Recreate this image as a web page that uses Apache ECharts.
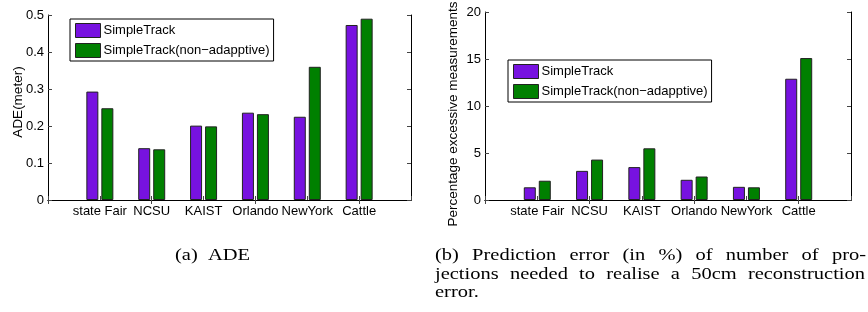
<!DOCTYPE html>
<html>
<head>
<meta charset="utf-8">
<script src="https://cdn.jsdelivr.net/npm/echarts@6/dist/echarts.min.js"></script>
<style>
  html, body { margin: 0; padding: 0; background: #fff; }
  #chart { width: 868px; height: 312px; }
</style>
</head>
<body>
<div id="chart"></div>
<script>
const categories = ['state Fair', 'NCSU', 'KAIST', 'Orlando', 'NewYork', 'Cattle']
const seriesNames = ['SimpleTrack', 'SimpleTrack(non\u2212adapptive)']
// (a) ADE in meters
const adeSimple = [0.293, 0.140, 0.201, 0.236, 0.225, 0.473]
const adeNonAdaptive = [0.248, 0.137, 0.199, 0.232, 0.360, 0.490]
// (b) percentage excessive measurements
const pctSimple = [1.35, 3.1, 3.5, 2.15, 1.4, 12.9]
const pctNonAdaptive = [2.05, 4.3, 5.5, 2.5, 1.35, 15.1]
const adeTicks = { min: 0, max: 0.5, interval: 0.1 }
const pctTicks = { min: 0, max: 20, interval: 5 }
const captionA = '(a) ADE'
const captionB = ['(b) Prediction error (in %) of number of pro-', 'jections needed to realise a 50cm reconstruction', 'error.']

const colors = ['#7712e0', '#008000']
const sans = '"Liberation Sans", Arial, Helvetica, sans-serif'
const serif = '"Liberation Serif", "Times New Roman", serif'

// MATLAB style xlim [0 7]: pad one empty slot on each side
const paddedCats = [''].concat(categories, [''])
const pad = arr => [null].concat(arr, [null])

function xAxes(gridIndex) {
  const base = {
    type: 'category',
    gridIndex: gridIndex,
    data: paddedCats,
    boundaryGap: false,
    axisLine: { show: true, lineStyle: { color: '#000', width: 1 } },
    axisTick: { show: true, inside: true, length: 4, lineStyle: { color: '#444' } },
    splitLine: { show: false }
  }
  return [
    Object.assign({}, base, {
      position: 'bottom',
      axisLabel: { interval: 0, color: '#000', fontSize: 13, fontFamily: sans, margin: 5 }
    }),
    Object.assign({}, base, { position: 'top', axisLabel: { show: false } })
  ]
}

function yAxes(gridIndex, ticks) {
  const base = {
    type: 'value',
    gridIndex: gridIndex,
    min: ticks.min,
    max: ticks.max,
    interval: ticks.interval,
    axisLine: { show: true, lineStyle: { color: '#000', width: 1 } },
    axisTick: { show: true, inside: true, length: 4, lineStyle: { color: '#444' } },
    splitLine: { show: false }
  }
  return [
    Object.assign({}, base, {
      position: 'left',
      axisLabel: { color: '#000', fontSize: 13, fontFamily: sans, margin: 4 }
    }),
    Object.assign({}, base, { position: 'right', axisLabel: { show: false } })
  ]
}

function barSeries(name, data, color, gridIndex) {
  return {
    type: 'bar',
    name: name,
    xAxisIndex: gridIndex * 2,
    yAxisIndex: gridIndex * 2,
    data: pad(data),
    barWidth: 12,
    barGap: '25%',
    itemStyle: { color: color, borderColor: '#222', borderWidth: 1 }
  }
}

function legend(left, top) {
  return {
    data: seriesNames,
    orient: 'vertical',
    left: left,
    top: top,
    icon: 'rect',
    itemWidth: 25,
    itemHeight: 14,
    itemGap: 5,
    padding: [4, 4, 3, 5],
    borderColor: '#000',
    borderWidth: 1,
    backgroundColor: '#fff',
    selectedMode: false,
    itemStyle: { borderColor: '#222', borderWidth: 1 },
    textStyle: { color: '#000', fontSize: 13, fontFamily: sans, padding: [0, 0, 0, -2] }
  }
}

// captions: serif text, justified between x0 and x1
const measureCtx = document.createElement('canvas').getContext('2d')
const capFont = '17.5px ' + serif
const capScale = 1.17
function captionLine(text, x0, x1, y) {
  measureCtx.font = capFont
  const words = text.split(' ')
  const widths = words.map(w => measureCtx.measureText(w).width * capScale)
  const total = widths.reduce((a, b) => a + b, 0)
  const gap = x1 == null || words.length < 2
    ? measureCtx.measureText(' ').width * capScale
    : (x1 - x0 - total) / (words.length - 1)
  let x = x0
  return words.map((w, i) => {
    const el = {
      type: 'text',
      x: x,
      y: y,
      scaleX: capScale,
      style: { text: w, font: capFont, fill: '#000', verticalAlign: 'middle' }
    }
    x += widths[i] + gap
    return el
  })
}

function yName(text, x, y) {
  return {
    type: 'text',
    x: x,
    y: y,
    rotation: Math.PI / 2,
    style: { text: text, font: '13.5px ' + sans, fill: '#000', align: 'center', verticalAlign: 'middle' }
  }
}

const graphics = [
  yName('ADE(meter)', 18, 102),
  yName('Percentage excessive measurements', 453, 114)
].concat(
  captionLine(captionA, 175, 250, 255),
  captionLine(captionB[0], 435, 866, 255),
  captionLine(captionB[1], 435, 865, 274),
  captionLine(captionB[2], 435, null, 292.5)
)

const myChart = echarts.init(document.getElementById('chart'))
myChart.setOption({
  animation: false,
  backgroundColor: '#fff',
  grid: [
    { left: 48, top: 15, width: 363, height: 185 },
    { left: 485, top: 12, width: 366, height: 188 }
  ],
  xAxis: xAxes(0).concat(xAxes(1)),
  yAxis: yAxes(0, adeTicks).concat(yAxes(1, pctTicks)),
  legend: [legend(70, 19), legend(508, 60)],
  series: [
    barSeries(seriesNames[0], adeSimple, colors[0], 0),
    barSeries(seriesNames[1], adeNonAdaptive, colors[1], 0),
    barSeries(seriesNames[0], pctSimple, colors[0], 1),
    barSeries(seriesNames[1], pctNonAdaptive, colors[1], 1)
  ],
  graphic: graphics
})
</script>
</body>
</html>
